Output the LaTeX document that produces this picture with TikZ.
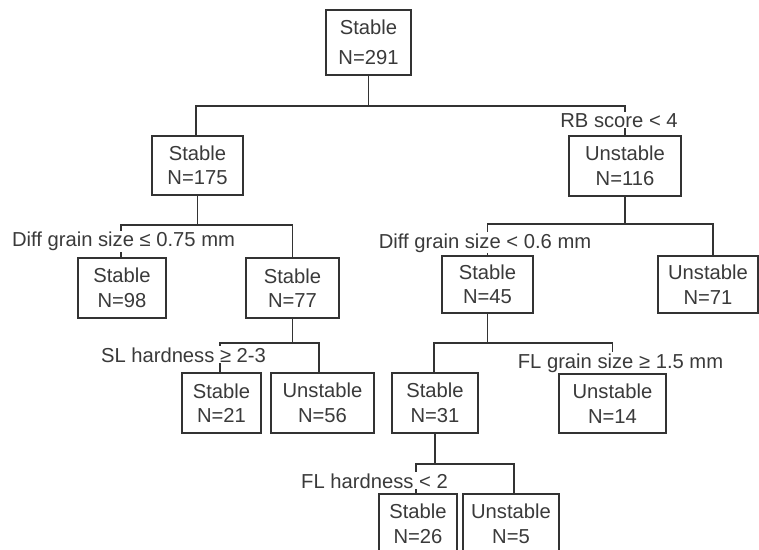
\documentclass[tikz,border=0pt]{standalone}
\usepackage{fontspec}
\setmainfont{Liberation Sans}
\definecolor{ln}{HTML}{333333}
\definecolor{tx}{HTML}{3A3A3A}
\tikzset{
  box/.style={draw=ln, line width=1.4pt, text=tx, align=center, inner sep=0pt,
    minimum height=60pt, font=\fontsize{20.2}{24.5}\selectfont},
  lbl/.style={fill=white, text=tx, inner sep=1pt, anchor=base,
    font=\fontsize{20.2}{24.5}\selectfont},
  edge/.style={draw=ln, line width=1.4pt},
}
\begin{document}
\begin{tikzpicture}[x=1pt,y=-1pt]
\useasboundingbox (0,0) rectangle (759,549);
\clip (0,0) rectangle (759,549);
\fill[white] (0,0) rectangle (759,549);

% boxes
\node[box, minimum width=85pt, minimum height=65pt, font=\fontsize{20.2}{30}\selectfont] (root) at (368.5,42.5) {Stable\\N=291};
\node[box, minimum width=91pt, minimum height=59pt] (n175) at (197.5,165.5) {Stable\\N=175};
\node[box, minimum width=112pt, line width=1.8pt] (n116) at (625,166) {Unstable\\N=116};
\node[box, minimum width=88pt] (n98) at (122,288) {Stable\\N=98};
\node[box, minimum width=93pt] (n77) at (292.5,288) {Stable\\N=77};
\node[box, minimum width=91pt, minimum height=57pt] (n45) at (487.5,284.5) {Stable\\N=45};
\node[box, minimum width=100pt, minimum height=57pt] (n71) at (708,284.5) {Unstable\\N=71};
\node[box, minimum width=79pt] (n21) at (221.5,403) {Stable\\N=21};
\node[box, minimum width=103pt] (n56) at (322.5,403) {Unstable\\N=56};
\node[box, minimum width=86pt] (n31) at (435,403) {Stable\\N=31};
\node[box, minimum width=107pt, minimum height=59pt] (n14) at (612.5,403.5) {Unstable\\N=14};
\node[box, minimum width=78pt] (n26) at (418,524) {Stable\\N=26};
\node[box, minimum width=96pt] (n5) at (511,524) {Unstable\\N=5};

% junctions
\coordinate (j0) at (368.5,106);
\coordinate (j1) at (197.5,225);
\coordinate (j2) at (625,224);
\coordinate (j3) at (292.5,343);
\coordinate (j4) at (487.5,343);
\coordinate (j5) at (435,464);

% connectors
\draw[edge] (root.south) -- (j0);
\draw[edge] ([xshift=-1.5pt]n175.north) |- (j0) -| (n116.north);
\draw[edge] (n175.south) -- (j1);
\draw[edge] ([xshift=-1pt]n98.north) |- (j1) -| (n77.north);
\draw[edge, line width=1.8pt] (n116.south) -- (j2);
\draw[edge] (n45.north) |- (j2) -| ([xshift=5pt]n71.north);
\draw[edge] (n77.south) -- (j3);
\draw[edge] ([xshift=-1.5pt]n21.north) |- (j3) -| ([xshift=-3.5pt]n56.north);
\draw[edge] (n45.south) -- (j4);
\draw[edge] ([xshift=-1pt]n31.north) |- (j4) -| (n14.north);
\draw[edge] (n31.south) -- (j5);
\draw[edge] ([xshift=-2pt]n26.north) |- (j5) -| ([xshift=3pt]n5.north);

% split labels
\node[lbl] (l0) at (619,127) {RB score < 4};
\node[lbl] (l1) at (123.5,246.7) {Diff grain size ≤ 0.75 mm};
\node[lbl] (l2) at (485,248) {Diff grain size < 0.6 mm};
\node[lbl] (l3) at (183.5,362) {SL hardness ≥ 2-3};
\node[lbl] (l4) at (620.5,368) {FL grain size ≥ 1.5 mm};
\node[lbl] (l5) at (374.5,488) {FL hardness < 2};
\end{tikzpicture}
\end{document}
